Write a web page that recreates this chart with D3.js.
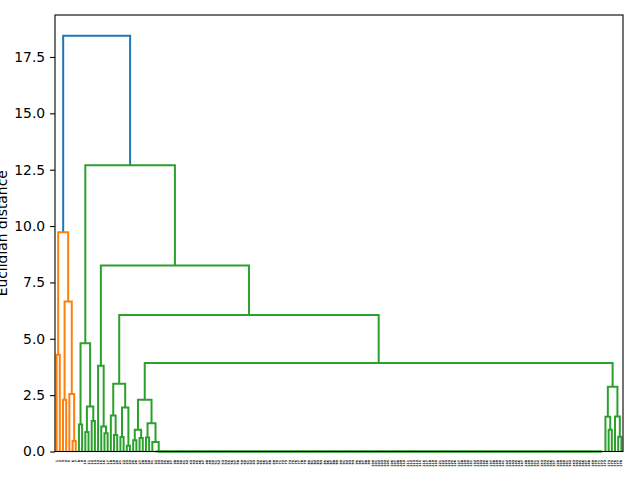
<!DOCTYPE html>
<html><head><meta charset="utf-8">
<script src="https://cdn.jsdelivr.net/npm/d3@7"></script>
<style>
html,body{margin:0;padding:0;background:#fff;}
svg{display:block;font-family:"DejaVu Sans",sans-serif;}
</style></head>
<body><svg id="c" width="640" height="480"></svg>
<script>
// ---- data ----
const yTicks = [0, 2.5, 5, 7.5, 10, 12.5, 15, 17.5];
const yLabel = "Euclidian distance";
const linkColors = ["#1f77b4", "#ff7f0e", "#2ca02c"];
const colorThreshold = 12.9;
// size of the group of identical samples (all merged at distance 0)
const duplicateGroupSize = 141;
// merge tree: [height, left, right]; leaves are sample labels, "DUP" = duplicate group
const tree =
  [18.44,
    [9.72, [4.29, "1", "2"], [6.65, [2.29, "3", "4"], [2.55, "5", [0.47, "6", "7"]]]],
    [12.7,
      [4.8, [1.2, "8", "9"], [2.0, [0.86, "10", "11"], [1.35, "12", "13"]]],
      [8.25,
        [3.8, "14", [1.11, "15", [0.81, "16", "17"]]],
        [6.05,
          [3.0, [1.6, "18", [0.73, "19", "20"]], [1.95, [0.64, "21", "22"], [0.25, "23", "24"]]],
          [3.93,
            [2.3, [0.96, [0.5, "25", "26"], [0.6, "27", "28"]], [1.25, [0.62, "29", "30"], [0.42, "31", "DUP"]]],
            [2.87, [1.54, "173", [0.96, "174", "175"]], [1.55, "176", [0.65, "177", "178"]]]
          ]
        ]
      ]
    ]
  ];

// ---- build hierarchy ----
let dupLabel = 32;
function expand(node) {
  if (node === "DUP") {
    // chain of identical samples merged at height 0
    const labels = d3.range(duplicateGroupSize).map(() => String(dupLabel++));
    let n = {h: 0, label: labels[labels.length - 1]};
    for (let i = labels.length - 2; i >= 0; i--) {
      n = {h: 0, children: [{h: 0, label: labels[i]}, n]};
    }
    return n;
  }
  if (typeof node === "string") return {h: 0, label: node};
  return {h: node[0], children: [expand(node[1]), expand(node[2])]};
}
const root = d3.hierarchy(expand(tree));
const leaves = root.leaves();
const N = leaves.length;
leaves.forEach((l, i) => { l.xv = 10 * i + 5; });
root.eachAfter(n => {
  if (n.children) n.xv = (n.children[0].xv + n.children[1].xv) / 2;
});
// colour: clusters below threshold get successive colours
let ci = 1;
function colorize(n, col) {
  if (!n.children) return;
  if (col == null && n.data.h < colorThreshold) { col = linkColors[ci++]; }
  n.color = col == null ? linkColors[0] : col;
  n.children.forEach(c => colorize(c, col));
}
colorize(root, null);

// ---- draw ----
const W = 640, H = 480;
const m = {l: 55, r: 623, t: 15, b: 451.5};
const maxH = root.data.h;
const x = d3.scaleLinear().domain([0, N * 10]).range([m.l, m.r]);
const y = d3.scaleLinear().domain([0, maxH * 1.05]).range([m.b, m.t]);
const svg = d3.select("#c");

const links = root.descendants().filter(n => n.children);
const line = d3.line().x(d => x(d[0])).y(d => y(d[1]));
svg.append("g").selectAll("path").data(links).join("path")
  .attr("d", n => {
    const [a, b] = n.children;
    return line([[a.xv, a.data.h], [a.xv, n.data.h], [b.xv, n.data.h], [b.xv, b.data.h]]);
  })
  .attr("fill", "none").attr("stroke", n => n.color)
  .attr("stroke-width", 2).attr("stroke-linejoin", "miter").attr("stroke-linecap", "butt");

// y axis
const yAxis = d3.axisLeft(y).tickValues(yTicks).tickFormat(d3.format(".1f"))
  .tickSize(4.9).tickPadding(4.9);
const gy = svg.append("g").attr("transform", `translate(${m.l},0)`).call(yAxis);
gy.select(".domain").remove();
gy.selectAll("line").attr("stroke", "#000").attr("stroke-width", 1.1);
gy.selectAll("text").attr("font-size", 13.9).attr("font-family", "DejaVu Sans").attr("fill", "#000");

// leaf labels
svg.append("g").selectAll("text").data(leaves).join("text")
  .attr("transform", d => `translate(${x(d.xv)},460) rotate(-90)`)
  .attr("text-anchor", "end").attr("dominant-baseline", "central")
  .attr("font-size", 3.2).attr("font-weight", "bold").attr("fill", "#000")
  .text(d => d.data.label);

// frame
svg.append("rect").attr("x", m.l).attr("y", m.t)
  .attr("width", m.r - m.l).attr("height", m.b - m.t)
  .attr("fill", "none").attr("stroke", "#000").attr("stroke-width", 1.1);

// y label
svg.append("text").attr("transform", `translate(7.1,${(m.t + m.b) / 2}) rotate(-90)`)
  .attr("text-anchor", "middle").attr("font-size", 13.9).attr("fill", "#000")
  .text(yLabel);
</script></body></html>
